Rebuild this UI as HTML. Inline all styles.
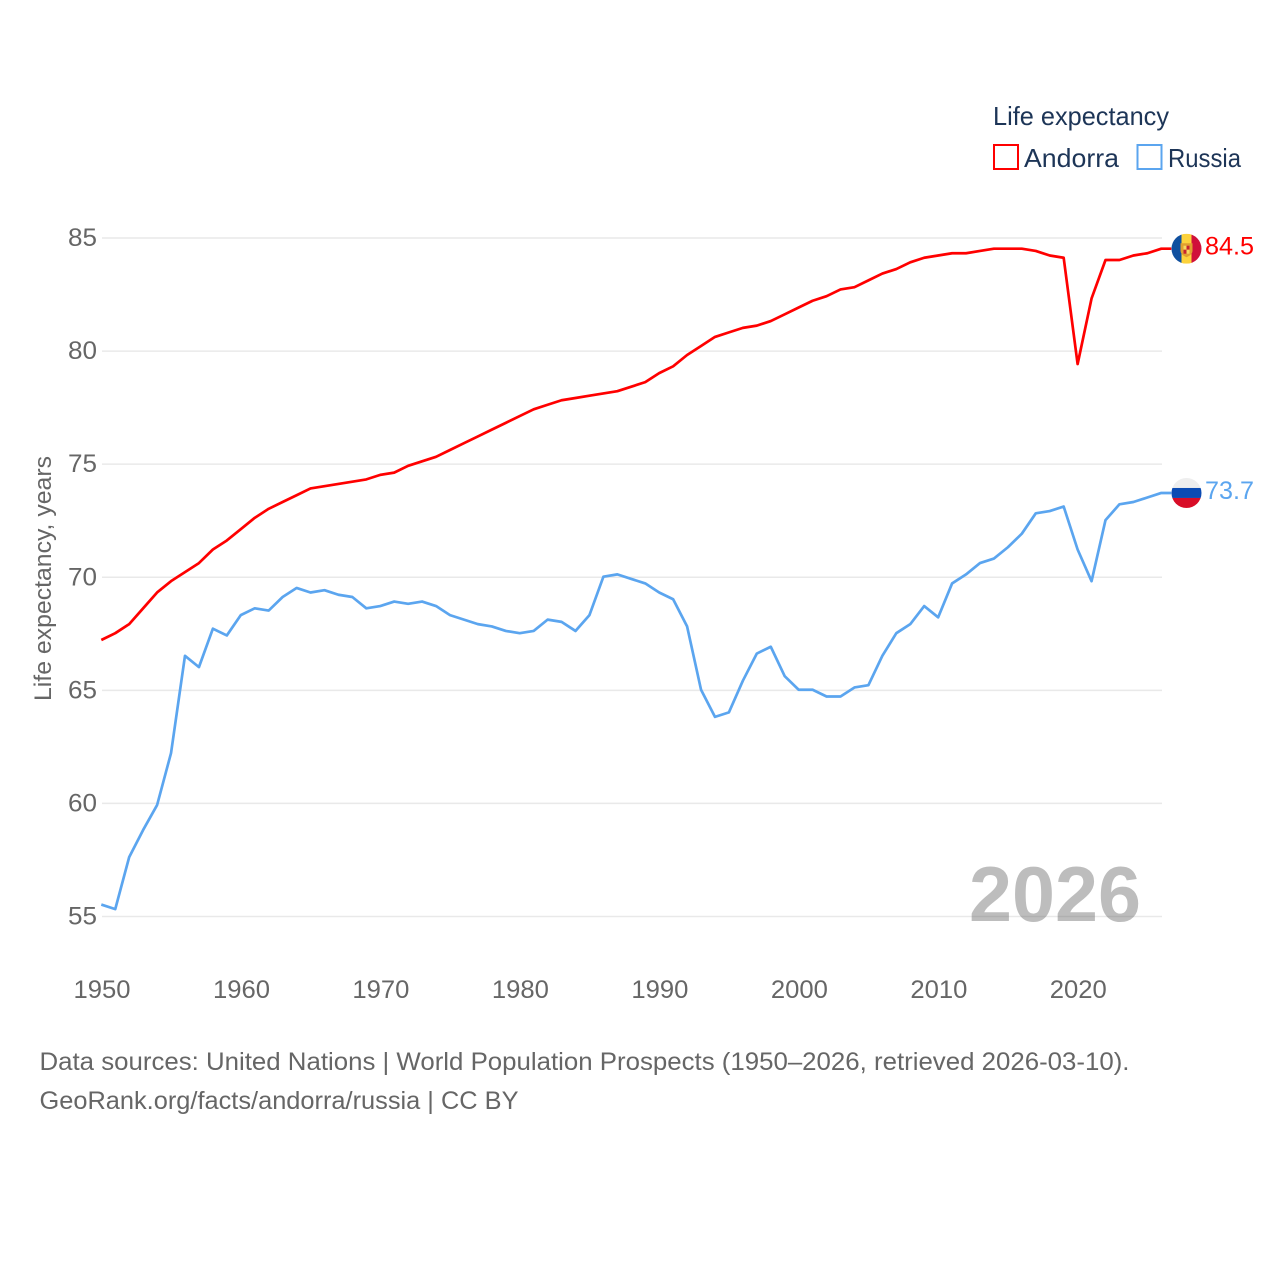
<!DOCTYPE html>
<html>
<head>
<meta charset="utf-8">
<title>Life expectancy: Andorra and Russia</title>
<style>
  html, body { margin: 0; padding: 0; background: #fff; }
  svg { display: block; font-family: "Liberation Sans", sans-serif; }
</style>
</head>
<body>
<svg id="chart" xmlns="http://www.w3.org/2000/svg" width="1280" height="1280" viewBox="0 0 1280 1280">
  <rect x="0" y="0" width="1280" height="1280" fill="#ffffff"/>
  <g id="grid"></g>
  <g id="y-ticks"></g>
  <g id="x-ticks"></g>
  <text transform="translate(51,701) rotate(-90)" font-size="24" fill="#666666" textLength="245" lengthAdjust="spacingAndGlyphs">Life expectancy, years</text>
  <g id="series" transform="translate(-0.7,-0.6)"></g>

  <g id="flag-andorra">
    <clipPath id="clip-a"><circle id="clip-a-circle" r="15"/></clipPath>
    <g clip-path="url(#clip-a)">
      <g id="flag-a-body">
        <rect x="-15" y="-15" width="10" height="30" fill="#10509f"/>
        <rect x="-5" y="-15" width="10" height="30" fill="#fcd23c"/>
        <rect x="5" y="-15" width="10" height="30" fill="#d0103a"/>
        <path d="M-6 -5.5 H6 V2 Q6 6 0 8.5 Q-6 6 -6 2 Z" fill="#e0a030"/>
        <rect x="-3" y="-3" width="3" height="4" fill="#f6d860"/>
        <rect x="0" y="-3" width="3" height="4" fill="#c8232f"/>
        <rect x="-3" y="1" width="3" height="4" fill="#c8232f"/>
        <rect x="0" y="1" width="3" height="4" fill="#f6d860"/>
      </g>
    </g>
  </g>
  <g id="flag-russia">
    <clipPath id="clip-r"><circle id="clip-r-circle" r="15"/></clipPath>
    <g clip-path="url(#clip-r)">
      <g id="flag-r-body">
        <rect x="-15" y="-15" width="30" height="10" fill="#eeeeee"/>
        <rect x="-15" y="-5" width="30" height="10" fill="#0b4bb3"/>
        <rect x="-15" y="5" width="30" height="10" fill="#d80d27"/>
      </g>
    </g>
  </g>
  <text id="label-andorra" x="1205" font-size="25" fill="#ff0000" textLength="49" lengthAdjust="spacingAndGlyphs"></text>
  <text id="label-russia" x="1205" font-size="25" fill="#5ba5ef" textLength="49" lengthAdjust="spacingAndGlyphs"></text>

  <text x="969" y="921" font-size="78" font-weight="700" fill="#5b5b5b" fill-opacity="0.4" textLength="172" lengthAdjust="spacingAndGlyphs">2026</text>

  <g>
    <text x="993" y="125" font-size="26" fill="#1d3557" textLength="176" lengthAdjust="spacingAndGlyphs">Life expectancy</text>
    <g>
      <rect x="994" y="145" width="24" height="24" fill="#ffffff" stroke="#ff0000" stroke-width="2"/>
      <text x="1024" y="167" font-size="26" fill="#1d3557" textLength="95" lengthAdjust="spacingAndGlyphs">Andorra</text>
    </g>
    <g>
      <rect x="1137.5" y="145" width="24" height="24" fill="#ffffff" stroke="#5ba5ef" stroke-width="2"/>
      <text x="1168" y="167" font-size="26" fill="#1d3557" textLength="73" lengthAdjust="spacingAndGlyphs">Russia</text>
    </g>
  </g>

  <g>
    <text x="39.5" y="1070" font-size="25" fill="#666666" textLength="1090" lengthAdjust="spacingAndGlyphs">Data sources: United Nations | World Population Prospects (1950–2026, retrieved 2026-03-10).</text>
    <text x="39.5" y="1109" font-size="25" fill="#666666" textLength="479" lengthAdjust="spacingAndGlyphs">GeoRank.org/facts/andorra/russia | CC BY</text>
  </g>
</svg>
<script>
const years = [1950,1951,1952,1953,1954,1955,1956,1957,1958,1959,1960,1961,1962,1963,1964,1965,1966,1967,1968,1969,1970,1971,1972,1973,1974,1975,1976,1977,1978,1979,1980,1981,1982,1983,1984,1985,1986,1987,1988,1989,1990,1991,1992,1993,1994,1995,1996,1997,1998,1999,2000,2001,2002,2003,2004,2005,2006,2007,2008,2009,2010,2011,2012,2013,2014,2015,2016,2017,2018,2019,2020,2021,2022,2023,2024,2025,2026];
const andorra = [67.2,67.5,67.9,68.6,69.3,69.8,70.2,70.6,71.2,71.6,72.1,72.6,73.0,73.3,73.6,73.9,74.0,74.1,74.2,74.3,74.5,74.6,74.9,75.1,75.3,75.6,75.9,76.2,76.5,76.8,77.1,77.4,77.6,77.8,77.9,78.0,78.1,78.2,78.4,78.6,79.0,79.3,79.8,80.2,80.6,80.8,81.0,81.1,81.3,81.6,81.9,82.2,82.4,82.7,82.8,83.1,83.4,83.6,83.9,84.1,84.2,84.3,84.3,84.4,84.5,84.5,84.5,84.4,84.2,84.1,79.4,82.3,84.0,84.0,84.2,84.3,84.5];
const russia = [55.5,55.3,57.6,58.8,59.9,62.2,66.5,66.0,67.7,67.4,68.3,68.6,68.5,69.1,69.5,69.3,69.4,69.2,69.1,68.6,68.7,68.9,68.8,68.9,68.7,68.3,68.1,67.9,67.8,67.6,67.5,67.6,68.1,68.0,67.6,68.3,70.0,70.1,69.9,69.7,69.3,69.0,67.8,65.0,63.8,64.0,65.4,66.6,66.9,65.6,65.0,65.0,64.7,64.7,65.1,65.2,66.5,67.5,67.9,68.7,68.2,69.7,70.1,70.6,70.8,71.3,71.9,72.8,72.9,73.1,71.2,69.8,72.5,73.2,73.3,73.5,73.7];
const yTickValues = [55,60,65,70,75,80,85];
const xTickValues = [1950,1960,1970,1980,1990,2000,2010,2020];

const NS = 'http://www.w3.org/2000/svg';
const xScale = function (year) { return 102 + (year - 1950) * (1162 - 102) / 76; };
const yScale = function (value) { return 916.5 - (value - 55) * (916.5 - 238) / 30; };

const gridGroup = document.getElementById('grid');
const yGroup = document.getElementById('y-ticks');
const xGroup = document.getElementById('x-ticks');
const seriesGroup = document.getElementById('series');

yTickValues.forEach(function (v) {
  const line = document.createElementNS(NS, 'line');
  
  
  line.setAttribute('x1', 102);
  line.setAttribute('x2', 1162);
  line.setAttribute('y1', yScale(v));
  line.setAttribute('y2', yScale(v));
  line.setAttribute('stroke', '#e9e9e9');
  line.setAttribute('stroke-width', 1.5);
  gridGroup.appendChild(line);

  const label = document.createElementNS(NS, 'text');
  
  
  label.setAttribute('x', 97);
  label.setAttribute('y', yScale(v) + 8);
  label.setAttribute('text-anchor', 'end');
  label.setAttribute('font-size', 25);
  label.setAttribute('fill', '#666666');
  label.setAttribute('textLength', 29);
  label.setAttribute('lengthAdjust', 'spacingAndGlyphs');
  label.textContent = String(v);
  yGroup.appendChild(label);
});

xTickValues.forEach(function (y) {
  const label = document.createElementNS(NS, 'text');
  
  
  label.setAttribute('x', xScale(y));
  label.setAttribute('y', 998);
  label.setAttribute('text-anchor', 'middle');
  label.setAttribute('font-size', 25);
  label.setAttribute('fill', '#666666');
  label.setAttribute('textLength', 57);
  label.setAttribute('lengthAdjust', 'spacingAndGlyphs');
  label.textContent = String(y);
  xGroup.appendChild(label);
});

function buildPath(values) {
  let d = '';
  values.forEach(function (v, i) {
    d += (i === 0 ? 'M' : 'L') + xScale(years[i]).toFixed(2) + ' ' + yScale(v).toFixed(2);
  });
  // short connector from the last point to the flag marker
  d += 'L' + (xScale(years[years.length - 1]) + 10) + ' ' + yScale(values[values.length - 1]).toFixed(2);
  return d;
}

const andorraLine = document.createElementNS(NS, 'path');


andorraLine.setAttribute('d', buildPath(andorra));
andorraLine.setAttribute('fill', 'none');
andorraLine.setAttribute('stroke', '#ff0000');
andorraLine.setAttribute('stroke-width', 2.7);
andorraLine.setAttribute('stroke-linejoin', 'round');
seriesGroup.appendChild(andorraLine);

const russiaLine = document.createElementNS(NS, 'path');


russiaLine.setAttribute('d', buildPath(russia));
russiaLine.setAttribute('fill', 'none');
russiaLine.setAttribute('stroke', '#5ba5ef');
russiaLine.setAttribute('stroke-width', 2.7);
russiaLine.setAttribute('stroke-linejoin', 'round');
seriesGroup.appendChild(russiaLine);

function placeEnd(flagBodyId, clipCircleId, labelId, values) {
  const last = values[values.length - 1];
  const cx = xScale(years[years.length - 1]) + 24.5;
  const cy = yScale(last) - 0.6;
  document.getElementById(clipCircleId).setAttribute('cx', cx);
  document.getElementById(clipCircleId).setAttribute('cy', cy);
  document.getElementById(flagBodyId).setAttribute('transform', 'translate(' + cx + ',' + cy + ')');
  const label = document.getElementById(labelId);
  label.setAttribute('y', cy + 6);
  label.textContent = last.toFixed(1);
}
placeEnd('flag-a-body', 'clip-a-circle', 'label-andorra', andorra);
placeEnd('flag-r-body', 'clip-r-circle', 'label-russia', russia);
</script>
</body>
</html>
